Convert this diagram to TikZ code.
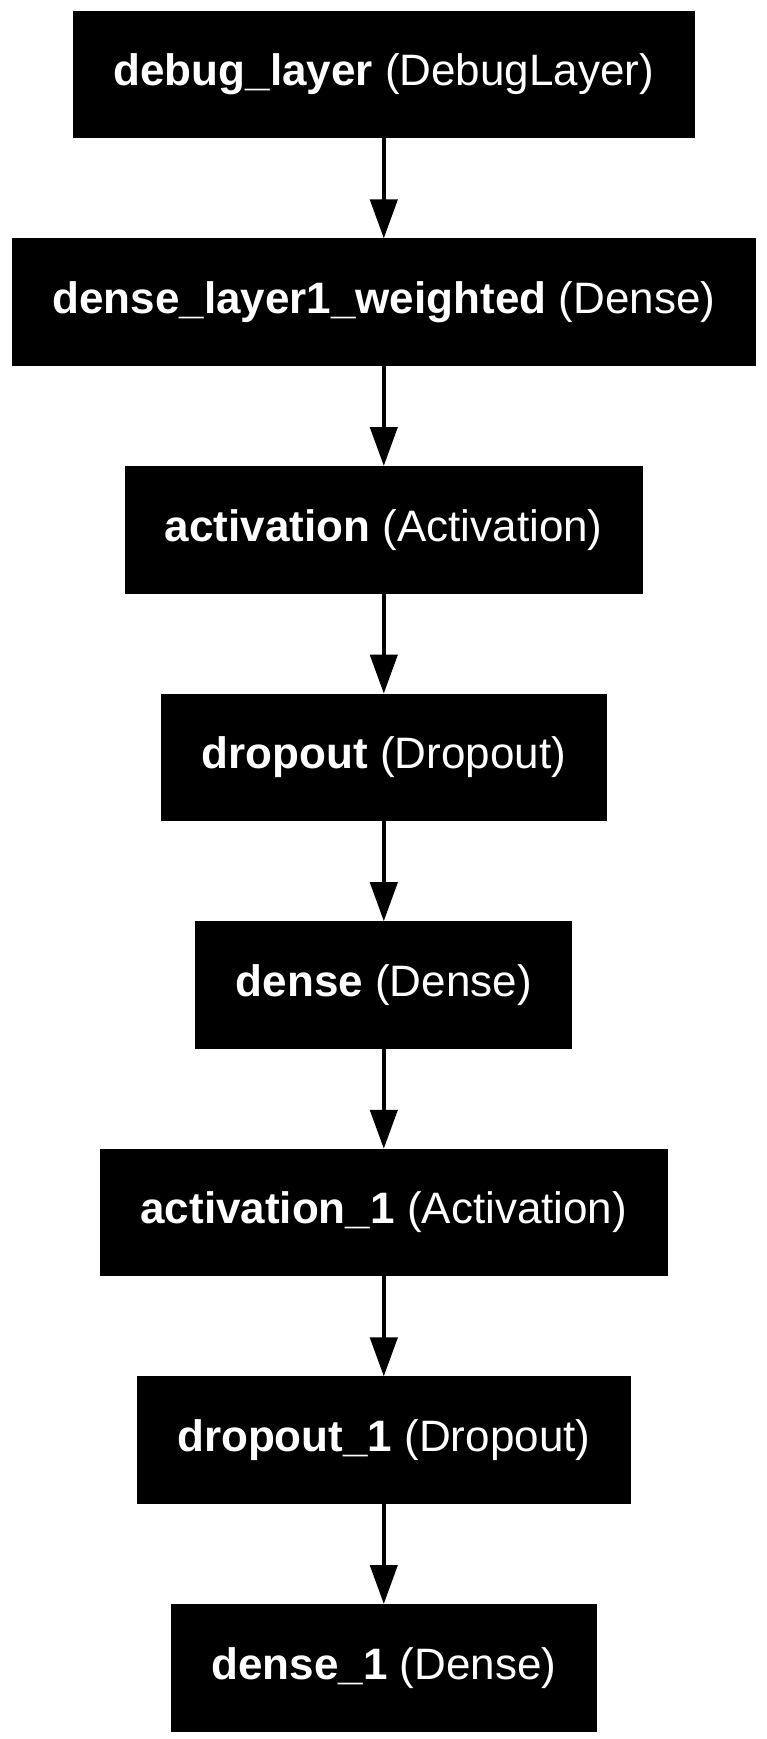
\documentclass[tikz,border=0pt]{standalone}
\usepackage{fontspec}
\setmainfont{Liberation Sans}
\usetikzlibrary{arrows.meta}
\tikzset{
  layer/.style={fill=black, draw=black, line width=0.8pt, text=white,
    inner xsep=40pt, inner ysep=0pt, minimum height=126.6pt,
    font=\fontsize{44}{53}\selectfont},
  flow/.style={draw=black, line width=4.3pt,
    -{Triangle[length=39pt,width=27pt]}}
}
\newcommand{\lay}[2]{\textbf{#1} (#2)}
\begin{document}
\begin{tikzpicture}[x=1pt,y=1pt]
\useasboundingbox (0,0) rectangle (767,-1739);
\def\cx{383.8}
\node[layer] (n1) at (\cx,-74.5) {\lay{debug\_layer}{DebugLayer}};
\node[layer] (n2) at (\cx,-302.1) {\lay{dense\_layer1\_weighted}{Dense}};
\node[layer] (n3) at (\cx,-529.7) {\lay{activation}{Activation}};
\node[layer] (n4) at (\cx,-757.3) {\lay{dropout}{Dropout}};
\node[layer] (n5) at (\cx,-984.9) {\lay{dense}{Dense}};
\node[layer] (n6) at (\cx,-1212.5) {\lay{activation\_1}{Activation}};
\node[layer] (n7) at (\cx,-1440.1) {\lay{dropout\_1}{Dropout}};
\node[layer] (n8) at (\cx,-1667.7) {\lay{dense\_1}{Dense}};
\foreach \a/\b in {n1/n2,n2/n3,n3/n4,n4/n5,n5/n6,n6/n7,n7/n8}
  \draw[flow] (\a.south) -- (\b.north);
\end{tikzpicture}
\end{document}
